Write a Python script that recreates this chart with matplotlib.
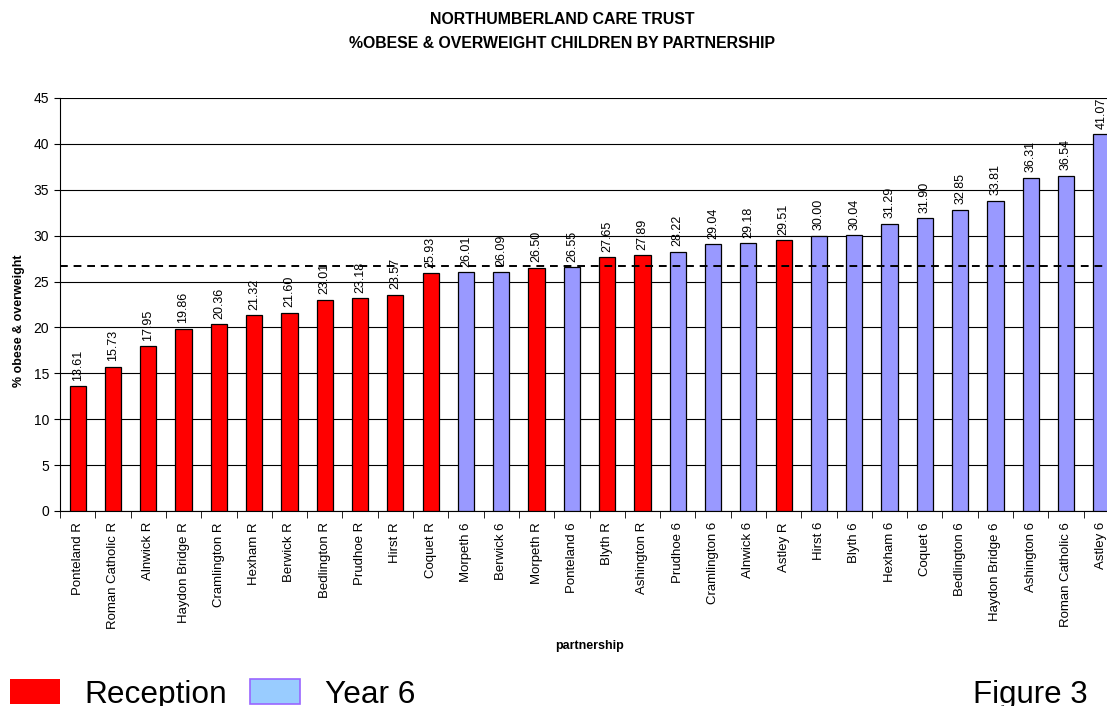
import matplotlib
matplotlib.use("Agg")
import matplotlib.pyplot as plt
from matplotlib.patches import Rectangle

plt.rcParams['font.family'] = ['Liberation Sans', 'DejaVu Sans']

partnerships = [
    "Ponteland R", "Roman Catholic R", "Alnwick R", "Haydon Bridge R", "Cramlington R",
    "Hexham R", "Berwick R", "Bedlington R", "Prudhoe R", "Hirst R", "Coquet R",
    "Morpeth 6", "Berwick 6", "Morpeth R", "Ponteland 6", "Blyth R", "Ashington R",
    "Prudhoe 6", "Cramlington 6", "Alnwick 6", "Astley R", "Hirst 6", "Blyth 6",
    "Hexham 6", "Coquet 6", "Bedlington 6", "Haydon Bridge 6", "Ashington 6",
    "Roman Catholic 6", "Astley 6",
]
values = [
    13.61, 15.73, 17.95, 19.86, 20.36, 21.32, 21.60, 23.01, 23.18, 23.57, 25.93,
    26.01, 26.09, 26.50, 26.55, 27.65, 27.89, 28.22, 29.04, 29.18, 29.51, 30.00,
    30.04, 31.29, 31.90, 32.85, 33.81, 36.31, 36.54, 41.07,
]
average = 26.7
legend_labels = ["Reception", "Year 6"]

red = "#FF0000"
blue = "#9999FF"

W, H = 1107, 706
fig = plt.figure(figsize=(W / 100, H / 100), dpi=100)
ax = fig.add_axes([60 / W, 1 - 511 / H, 1059 / W, 413 / H])

x = list(range(len(values)))
colors = [red if p.endswith(" R") else blue for p in partnerships]
ax.bar(x, values, width=0.46, color=colors, edgecolor="black", linewidth=0.9, zorder=3)

for xi, v in zip(x, values):
    ax.text(xi, v + 0.6, f"{v:.2f}", rotation=90, ha="center", va="bottom",
            fontsize=9, zorder=4)

ax.axhline(average, color="black", linestyle=(0, (4, 3)), linewidth=1.4, zorder=5)

ax.set_xlim(-0.5, len(values) - 0.5)
ax.set_ylim(0, 45)
ax.set_yticks(range(0, 46, 5))
ax.yaxis.grid(True, color="black", linewidth=0.8, zorder=0)
ax.set_axisbelow(True)
ax.set_xticks(x)
ax.set_xticklabels(partnerships, rotation=90, fontsize=9.5)
ax.set_xticks([i + 0.5 for i in range(-1, len(values))], minor=True)
ax.tick_params(axis="x", which="major", length=0, pad=8)
ax.tick_params(axis="x", which="minor", length=5, direction="out")
ax.tick_params(axis="y", labelsize=10, length=4, direction="out", pad=4)
for side in ("top", "right"):
    ax.spines[side].set_visible(False)

ax.set_ylabel("% obese & overweight", fontsize=9, fontweight="bold")
ax.yaxis.set_label_coords(-35 / 1059, (511 - 321) / 413)
fig.text(590 / W, 1 - 646 / H, "partnership", ha="center", va="center",
         fontsize=9, fontweight="bold")

fig.text(562 / W, 1 - 20 / H, "NORTHUMBERLAND CARE TRUST", ha="center",
         va="center", fontsize=11.4, fontweight="bold")
fig.text(562 / W, 1 - 44 / H, "%OBESE & OVERWEIGHT CHILDREN BY PARTNERSHIP",
         ha="center", va="center", fontsize=11.4, fontweight="bold")

# legend keys and labels along the bottom edge
fig.add_artist(Rectangle((10 / W, 1 - 704 / H), 50 / W, 25 / H,
                         transform=fig.transFigure, facecolor=red, edgecolor="none"))
fig.add_artist(Rectangle((250 / W, 1 - 704 / H), 50 / W, 25 / H,
                         transform=fig.transFigure, facecolor="#99CCFF",
                         edgecolor="#9966FF", linewidth=1.2))
fig.text(84 / W, 1 - 703 / H, legend_labels[0], ha="left", va="baseline", fontsize=22.8)
fig.text(325 / W, 1 - 703 / H, legend_labels[1], ha="left", va="baseline", fontsize=22.8)
fig.text(973 / W, 1 - 703 / H, "Figure 3", ha="left", va="baseline", fontsize=22.5)

fig.savefig("out.png", dpi=100)
